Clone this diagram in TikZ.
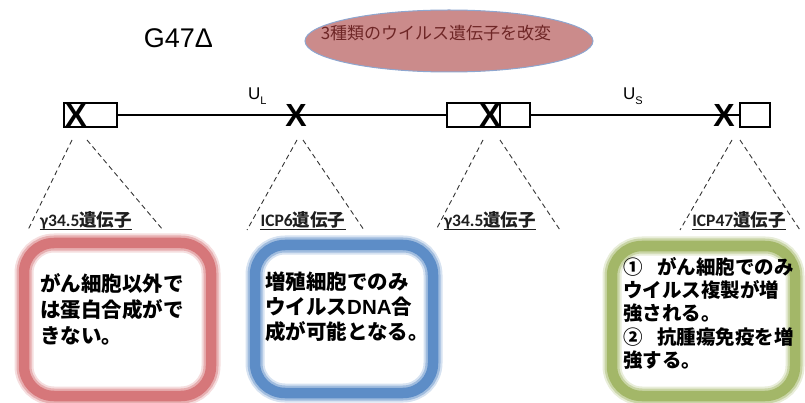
\documentclass[tikz,border=0pt]{standalone}
\usepackage{fontspec}
\setmainfont{Liberation Sans}
\newfontfamily\jp{Noto Sans CJK JP}
\newfontfamily\carl{Carlito}
\usetikzlibrary{shapes.geometric}
\definecolor{ellF}{HTML}{CB8B8B}
\definecolor{ellB}{HTML}{8EA6CF}
\definecolor{ellT}{HTML}{6E2626}
\definecolor{redB}{HTML}{D6777A}
\definecolor{bluB}{HTML}{5D8DC7}
\definecolor{grnB}{HTML}{A3B768}
\definecolor{dash}{HTML}{333333}
\tikzset{
  genebox/.style={draw, line width=2.2, minimum height=24, inner sep=0},
  xmark/.style={inner sep=0, font=\fontsize{32}{32}\selectfont\bfseries},
  cut/.style={draw=dash, line width=0.9, dash pattern=on 5pt off 3.5pt},
  genelab/.style={anchor=base, inner sep=0, text=black!88, font=\fontsize{17.5}{18}\selectfont\bfseries},
  uline/.style={line width=0.9, black!88},
  bodytxt/.style={anchor=north west, align=left, inner sep=0},
}
\newcommand\softframe[3]{%
  \draw[#1, opacity=0.25, line width=19, rounded corners=30] #2 rectangle #3;
  \draw[#1, opacity=0.45, line width=15, rounded corners=30] #2 rectangle #3;
  \draw[#1, line width=10.5, rounded corners=30] #2 rectangle #3;
}
\newcommand\glab[2]{{\carl\bfseries #1}{\jp\bfseries #2}}
\begin{document}
\begin{tikzpicture}[x=1pt,y=-1pt]
\useasboundingbox (0,0) rectangle (805,403);

% title
\node[font=\fontsize{27}{27}\selectfont, inner sep=0] (title) at (178.5,38) {G47Δ};

% ellipse
\node[ellipse, draw=ellB, line width=1, fill=ellF, minimum width=288, minimum height=62, inner sep=0] (ell) at (449,41) {};
\node[text=ellT, inner sep=0, font=\jp\fontsize{17}{17}\selectfont] (elltxt) at (436,33) {3種類のウイルス遺伝子を改変};

% genome
\node[genebox, minimum width=53] (b1) at (90.5,115) {};
\node[genebox, minimum width=83] (b3) at (488.5,115) {};
\node[genebox, minimum width=30] (b4) at (755,115) {};
\coordinate (d3t) at (500,103);
\coordinate (d3b) at (500,127);
\draw[line width=2.2] (d3t) -- (d3b);
\draw[line width=1.6] (b1.east) -- (b3.west);
\draw[line width=1.6] (b3.east) -- (b4.west);

\node[xmark] (x1) at (76,115) {X};
\node[xmark] (x2) at (296,115) {X};
\node[xmark] (x3) at (490,115) {X};
\node[xmark] (x4) at (724,115) {X};

\node[inner sep=0, anchor=base west, font=\fontsize{17}{17}\selectfont] (ul) at (248,100) {U\raisebox{-5pt}{\fontsize{11}{11}\selectfont L}};
\node[inner sep=0, anchor=base west, font=\fontsize{17}{17}\selectfont] (us) at (623,100) {U\raisebox{-5pt}{\fontsize{11}{11}\selectfont S}};

% dashed triangles
\coordinate (t1a) at (72,140);  \coordinate (t1b) at (28,230);
\coordinate (t1c) at (87,140);  \coordinate (t1d) at (163,230);
\coordinate (t2a) at (297,140); \coordinate (t2b) at (247,230);
\coordinate (t2c) at (303,140); \coordinate (t2d) at (364,230);
\coordinate (t3a) at (483,140); \coordinate (t3b) at (436,230);
\coordinate (t3c) at (500,140); \coordinate (t3d) at (560,230);
\coordinate (t4a) at (732,140); \coordinate (t4b) at (680,230);
\coordinate (t4c) at (740,140); \coordinate (t4d) at (800,230);
\foreach \i in {1,2,3,4}{
  \draw[cut] (t\i a) -- (t\i b);
  \draw[cut] (t\i c) -- (t\i d);
}

% gene labels
\node[genelab] (l1) at (86,226) {\glab{γ34.5}{遺伝子}};
\node[genelab] (l2) at (303,226) {\glab{ICP6}{遺伝子}};
\node[genelab] (l3) at (490,226) {\glab{γ34.5}{遺伝子}};
\node[genelab] (l4) at (739,226) {\glab{ICP47}{遺伝子}};
\foreach \n in {l1,l2,l3,l4}{
  \draw[uline] ([yshift=-3pt]\n.base west) -- ([yshift=-3pt]\n.base east);
}

% frames
\softframe{redB}{(24,243)}{(211,396)}
\softframe{bluB}{(255,245)}{(433,393)}
\softframe{grnB}{(612,246)}{(795,396)}

\node[bodytxt, font=\jp\bfseries\fontsize{20.5}{26}\selectfont] (r) at (40,273)
  {がん細胞以外で\\は蛋白合成がで\\きない。};
\node[bodytxt, font=\jp\bfseries\fontsize{20.5}{25}\selectfont] (bt) at (265,272)
  {増殖細胞でのみ\\ウイルス{\rmfamily\bfseries DNA}合\\成が可能となる。};
\node[bodytxt, font=\jp\bfseries\fontsize{19.5}{23.3}\selectfont] (g) at (623,257)
  {①\hspace{0.75em}がん細胞でのみ\\ウイルス複製が増\\強される。\\②\hspace{0.75em}抗腫瘍免疫を増\\強する。};
\end{tikzpicture}
\end{document}
